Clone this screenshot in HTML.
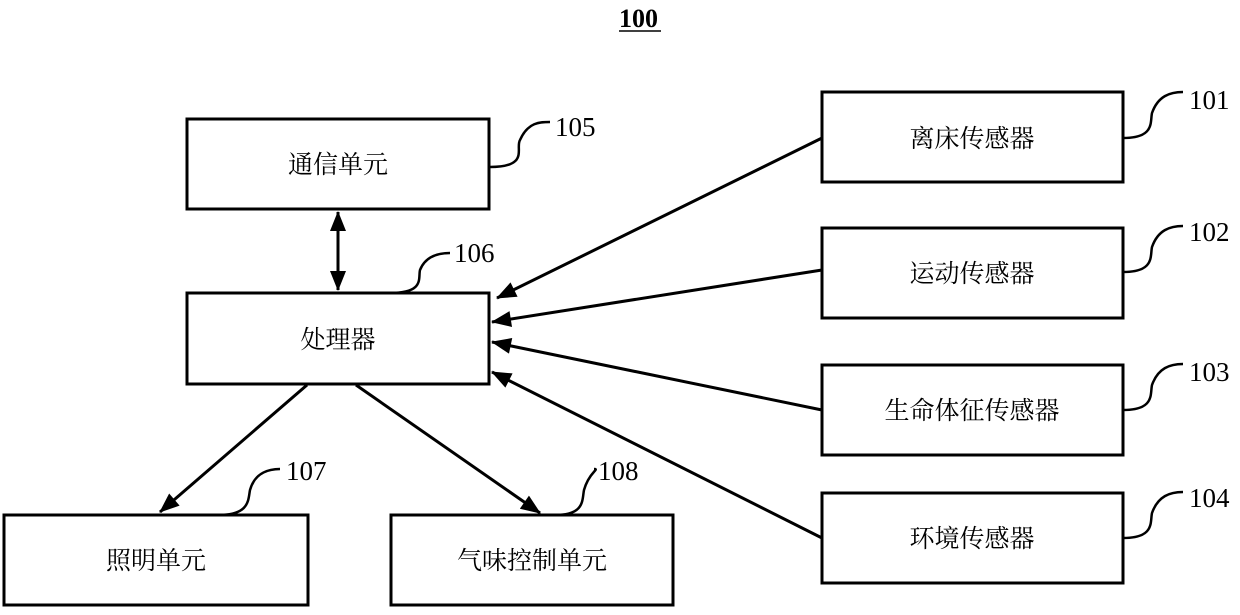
<!DOCTYPE html><html><head><meta charset="utf-8"><style>body{margin:0;background:#fff}</style></head><body>
<svg width="1240" height="610" xmlns="http://www.w3.org/2000/svg" font-family="Liberation Serif, Noto Serif CJK SC, serif">
<defs>
<marker id="b" viewBox="0 0 10 8" markerWidth="22" markerHeight="16" refX="9.5" refY="4" orient="auto" markerUnits="userSpaceOnUse"><path d="M0,0 L10,4 L0,8 z" fill="#000"/></marker>
<marker id="c" viewBox="0 0 10 8" markerWidth="22" markerHeight="16" refX="9.5" refY="4" orient="auto-start-reverse" markerUnits="userSpaceOnUse"><path d="M0,0 L10,4 L0,8 z" fill="#000"/></marker></defs>
<g fill="none" stroke="#000" stroke-width="3">
<rect x="187" y="119" width="302" height="90"/>
<rect x="187" y="293" width="302" height="91"/>
<rect x="4" y="515" width="304" height="90"/>
<rect x="391" y="515" width="282" height="90"/>
<rect x="822" y="92" width="301" height="90"/>
<rect x="822" y="228" width="301" height="90"/>
<rect x="822" y="365" width="301" height="90"/>
<rect x="822" y="493" width="301" height="90"/>
<line x1="338" y1="212" x2="338" y2="290" marker-start="url(#c)" marker-end="url(#c)"/>
<line x1="822" y1="138" x2="497" y2="298" marker-end="url(#b)"/>
<line x1="822" y1="270" x2="492" y2="322" marker-end="url(#b)"/>
<line x1="822" y1="410" x2="492" y2="342" marker-end="url(#b)"/>
<line x1="822" y1="538" x2="492" y2="372" marker-end="url(#b)"/>
<line x1="307" y1="385" x2="160" y2="512" marker-end="url(#b)"/>
<line x1="356" y1="385" x2="540" y2="513" marker-end="url(#b)"/>
<g stroke-width="2.5">
<path d="M490,167 C530,167 515,148 520,140 C528,122 540,122 550,122"/>
<path d="M390,293 C425,293 418,278 420,270 C426,255 440,253 450,253"/>
<path d="M218,515 C250,515 248,500 250,490 C255,472 270,469 280,469"/>
<path d="M555,515 C585,515 582,500 584,490 C589,472 600,469 594,469"/>
<path d="M1123,138 C1155,138 1150,122 1152,113 C1158,96 1170,92 1183,92"/>
<path d="M1123,272 C1155,272 1150,256 1152,247 C1158,230 1170,226 1183,226"/>
<path d="M1123,410 C1155,410 1150,394 1152,385 C1158,368 1170,364 1183,364"/>
<path d="M1123,538 C1155,538 1150,522 1152,513 C1158,496 1170,492 1183,492"/>
</g></g>
<g font-size="25" text-anchor="middle">
<text x="338" y="173">通信单元</text>
<text x="338" y="348">处理器</text>
<text x="156" y="569">照明单元</text>
<text x="532" y="569">气味控制单元</text>
<text x="972" y="147">离床传感器</text>
<text x="972" y="282">运动传感器</text>
<text x="972" y="419">生命体征传感器</text>
<text x="972" y="547">环境传感器</text>
</g>
<g font-size="27">
<text x="555" y="136">105</text>
<text x="454" y="262">106</text>
<text x="286" y="480">107</text>
<text x="598" y="480">108</text>
<text x="1189" y="109">101</text>
<text x="1189" y="241">102</text>
<text x="1189" y="381">103</text>
<text x="1189" y="507">104</text>
<text x="619" y="27" font-weight="bold" font-size="26">100</text>
</g>
<line x1="619" y1="31" x2="661" y2="31" stroke="#000" stroke-width="1.5"/>
</svg></body></html>
